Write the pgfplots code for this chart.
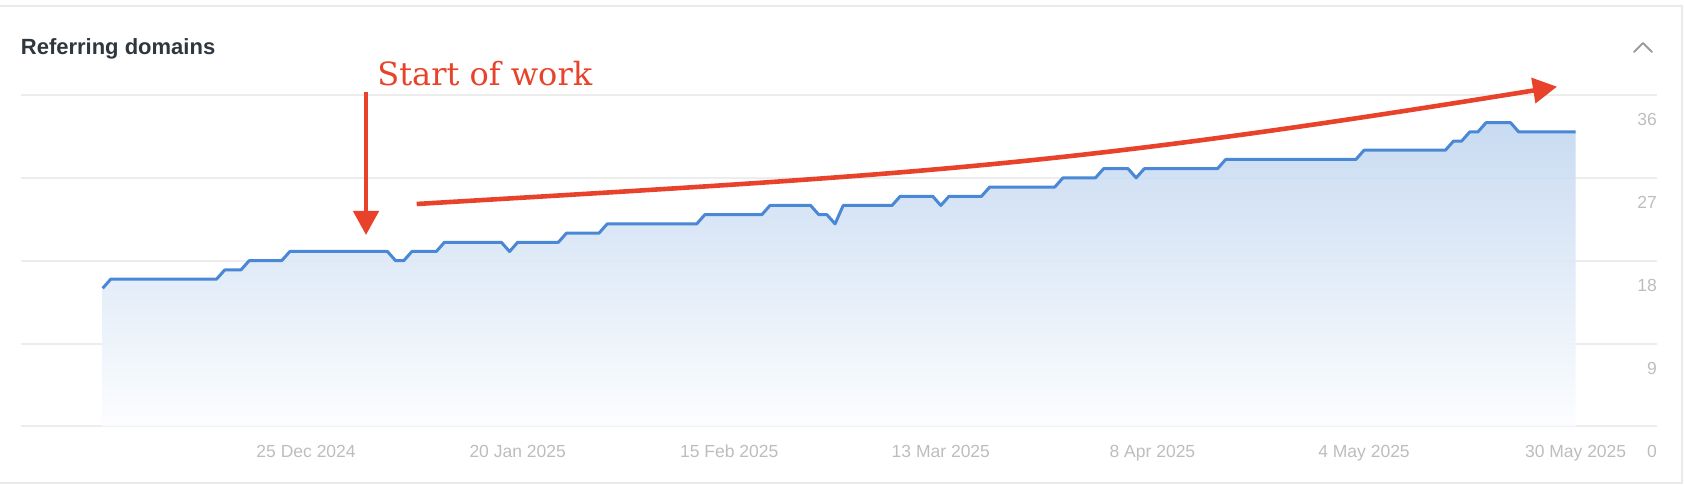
\documentclass[border=0pt]{standalone}
\usepackage{fontspec}
\setmainfont{Liberation Sans}
\newfontfamily\notefont{DejaVu Serif}
\usepackage{pgfplots}
\usepackage{pgfplotstable}
\pgfplotsset{compat=1.18}
\usetikzlibrary{arrows.meta}

\definecolor{lineblue}{HTML}{4A88D6}
\definecolor{fillTop}{HTML}{C4D8F0}
\definecolor{fillBot}{HTML}{FCFDFF}
\definecolor{tickgray}{HTML}{BDBDBD}
\definecolor{gridgray}{HTML}{EDEDED}
\definecolor{cardborder}{HTML}{EAEAEA}
\definecolor{titlegray}{HTML}{30363D}
\definecolor{chevgray}{HTML}{9C9C9C}
\definecolor{notered}{HTML}{E8432A}

% Referring domains per day; day 0 = 25 Dec 2024 (only the days where the count changes)
\pgfplotstableread{
day count
-25 15
-24 16
-11 16
-10 17
-8 17
-7 18
-3 18
-2 19
10 19
11 18
12 18
13 19
16 19
17 20
24 20
25 19
26 20
31 20
32 21
36 21
37 22
48 22
49 23
56 23
57 24
62 24
63 23
64 23
65 22
66 24
72 24
73 25
77 25
78 24
79 25
83 25
84 26
92 26
93 27
97 27
98 28
101 28
102 27
103 28
112 28
113 29
129 29
130 30
140 30
141 31
142 31
143 32
144 32
145 33
148 33
149 32
156 32
}\refdomains

\begin{document}
\begin{tikzpicture}[x=0.5pt,y=-0.5pt]
\useasboundingbox (0,0) rectangle (1684,486);
% card frame
\draw[cardborder, line width=1.2pt] (0,6) -- (1682,6) -- (1682,483) -- (0,483);
\node[anchor=base west, inner sep=0pt, font=\bfseries\fontsize{11}{13}\selectfont, text=titlegray]
  at (20.5,55) {Referring domains};
% collapse chevron
\draw[chevgray, line width=1pt, line cap=round, line join=round]
  (1634,52) -- (1643,43) -- (1652,52);

\begin{axis}[
  at={(10.35pt,-213.2pt)}, anchor=south west,
  scale only axis, width=818.3pt, height=165.7pt,
  xmin=-35.07, xmax=166.04, ymin=0, ymax=36,
  axis line style={draw=none}, tick style={draw=none},
  ytick={0,9,18,27,36},
  ymajorgrids, grid style={gridgray, line width=1pt},
  yticklabel pos=right,
  y tick label style={anchor=base east, inner sep=0pt, yshift=-15.3pt},
  xtick={0,26,52,78,104,130,156},
  xticklabels={25 Dec 2024,20 Jan 2025,15 Feb 2025,13 Mar 2025,8 Apr 2025,4 May 2025,30 May 2025},
  x tick label style={anchor=base, inner sep=0pt, yshift=-15.3pt},
  tick label style={font=\fontsize{8.75}{10}\selectfont, color=tickgray},
  /pgf/number format/assume math mode=true,
  clip=false,
]
\addplot[draw=none, top color=fillTop, bottom color=fillBot, fill opacity=0.92]
  table[x=day, y=count] {\refdomains} \closedcycle;
\addplot[lineblue, line width=1.5pt, line join=round, mark=none]
  table[x=day, y=count] {\refdomains};
\end{axis}

% annotations
\node[anchor=base west, inner sep=0pt, font=\notefont\fontsize{16}{18}\selectfont, text=notered]
  at (377,86) {Start of work};
\draw[notered, line width=2.3pt, -{Triangle[length=12pt,width=12.5pt]}]
  (366,92.5) -- (366,235);
\draw[notered, line width=2.3pt, -{Triangle[length=12pt,width=12.5pt]}]
  (416.7,204) .. controls (916.7,174) and (1057,167.7) .. (1557,86.7);
\end{tikzpicture}
\end{document}
